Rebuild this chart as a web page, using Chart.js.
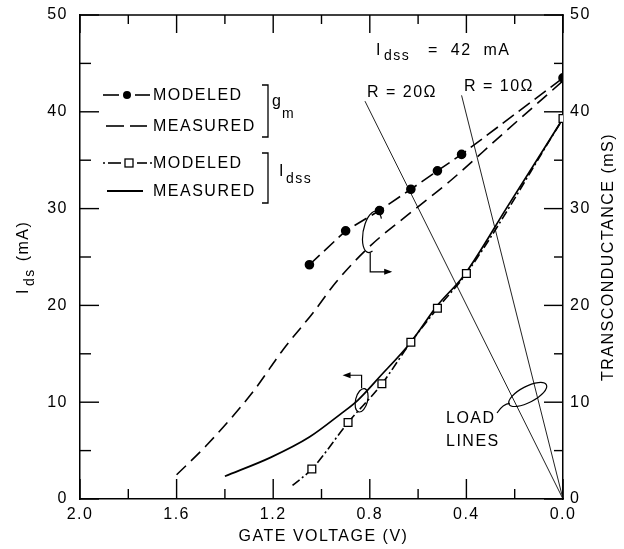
<!DOCTYPE html>
<html>
<head>
<meta charset="utf-8">
<script src="https://cdn.jsdelivr.net/npm/chart.js@4.4.0/dist/chart.umd.min.js"></script>
<style>
  html, body { margin: 0; background: #fff; }
  #wrap { width: 624px; height: 549px; position: relative; }
  #ov { position: absolute; left: 0; top: 0; pointer-events: none; }
</style>
</head>
<body>
<div id="wrap"><canvas id="chart"></canvas><canvas id="ov" width="624" height="549"></canvas></div>
<script>
const FONT = "'Liberation Sans', Arial, Helvetica, sans-serif";

// gate voltage (V) for each curve
const GM_MODELED_V = [1.05, 0.90, 0.76, 0.63, 0.52, 0.42, 0.00];
const GM_MODELED = [24.2, 27.7, 29.8, 32.0, 33.9, 35.6, 43.5]; // mS

const GM_MEASURED_V = [1.60, 1.47, 1.28, 1.16, 1.03, 0.94, 0.80, 0.63, 0.47, 0.25, 0.00];
const GM_MEASURED = [2.5, 5.7, 11.2, 15.4, 19.4, 22.4, 26.1, 29.6, 32.8, 37.7, 43.2]; // mS

const IDS_MODELED_V = [1.12, 1.04, 0.89, 0.75, 0.63, 0.52, 0.40, 0.00];
const IDS_MODELED = [1.4, 3.1, 7.9, 11.9, 16.2, 19.7, 23.3, 39.3]; // mA
const IDS_MODELED_MARK = [false, true, true, true, true, true, true, true];

const IDS_MEASURED_V = [1.40, 1.21, 1.05, 0.92, 0.85, 0.76, 0.63, 0.52, 0.41, 0.23, 0.00];
const IDS_MEASURED = [2.35, 4.3, 6.4, 8.8, 10.2, 12.6, 16.2, 20.0, 23.1, 30.2, 39.3]; // mA

// load lines
const LOAD_R20_V = [0.82, 0.0];
const LOAD_R20_I = [41.1, 0.0];
const LOAD_R10_V = [0.42, 0.0];
const LOAD_R10_I = [41.7, 0.0];

// axes
const X_MIN = 0, X_MAX = 2.0, X_STEP = 0.2;
const Y_MIN = 0, Y_MAX = 50, Y_STEP = 5;

function pts(xs, ys) {
  return xs.map((v, i) => ({ x: v, y: ys[i] }));
}

function txt(ctx, s, x, y, size, align) {
  ctx.font = size + "px " + FONT;
  ctx.textAlign = align || "left";
  ctx.fillText(s, x, y);
  return ctx.measureText(s).width;
}

function seg(ctx, x1, y1, x2, y2) {
  ctx.beginPath();
  ctx.moveTo(x1, y1);
  ctx.lineTo(x2, y2);
  ctx.stroke();
}

function arrowHead(ctx, x, y, dir) {
  // dir: 1 = right, -1 = left
  ctx.beginPath();
  ctx.moveTo(x, y);
  ctx.lineTo(x - dir * 8, y - 3);
  ctx.lineTo(x - dir * 8, y + 3);
  ctx.closePath();
  ctx.fill();
}

// legend, notes and axis titles
const decoPlugin = {
  id: "deco",
  beforeUpdate(chart) { chart.ctx.letterSpacing = "1.5px"; },
  beforeDraw(chart) { chart.ctx.letterSpacing = "1.5px"; },
  afterDraw(chart) {
    const ctx = chart.ctx;
    const ca = chart.chartArea;
    const sx = chart.scales.x, sy = chart.scales.y, sy2 = chart.scales.y2;
    ctx.save();
    ctx.setLineDash([]);
    ctx.strokeStyle = "#000";
    ctx.fillStyle = "#000";

    // legend
    ctx.lineWidth = 1.6;
    ctx.textBaseline = "middle";
    const lx = ca.left;
    // gm modeled
    seg(ctx, lx + 23, 95, lx + 39, 95);
    seg(ctx, lx + 55, 95, lx + 70, 95);
    ctx.beginPath(); ctx.arc(lx + 47, 95, 4, 0, Math.PI * 2); ctx.fill();
    txt(ctx, "MODELED", lx + 73, 96, 16);
    // gm measured
    seg(ctx, lx + 26, 126, lx + 44, 126);
    seg(ctx, lx + 50, 126, lx + 67, 126);
    txt(ctx, "MEASURED", lx + 73, 127, 16);
    // Ids modeled
    seg(ctx, lx + 23, 163, lx + 25, 163);
    seg(ctx, lx + 28, 163, lx + 41, 163);
    seg(ctx, lx + 57, 163, lx + 67, 163);
    seg(ctx, lx + 70, 163, lx + 72, 163);
    ctx.lineWidth = 1.3;
    ctx.strokeRect(lx + 45, 159, 8, 8);
    txt(ctx, "MODELED", lx + 73, 164, 16);
    // Ids measured
    ctx.lineWidth = 1.8;
    seg(ctx, lx + 27, 191, lx + 63, 191);
    txt(ctx, "MEASURED", lx + 73, 192, 16);

    // brackets
    ctx.lineWidth = 1.3;
    ctx.beginPath();
    ctx.moveTo(lx + 182, 85); ctx.lineTo(lx + 188, 85); ctx.lineTo(lx + 188, 137); ctx.lineTo(lx + 182, 137);
    ctx.moveTo(lx + 182, 153); ctx.lineTo(lx + 188, 153); ctx.lineTo(lx + 188, 203); ctx.lineTo(lx + 182, 203);
    ctx.stroke();
    ctx.textBaseline = "alphabetic";
    txt(ctx, "g", lx + 192, 106, 16);
    txt(ctx, "m", lx + 202, 118, 14);
    let w = txt(ctx, "I", lx + 199, 176, 16);
    txt(ctx, "dss", lx + 199 + w + 1, 183, 14);

    // Idss = 42 mA
    w = txt(ctx, "I", 376, 55, 16);
    txt(ctx, "dss", 376 + w + 2, 60, 14);
    txt(ctx, "=  42  mA", 428, 55, 16);

    // load line labels
    txt(ctx, "R = 20\u03A9", 367, 97, 16);
    txt(ctx, "R = 10\u03A9", 464, 91, 16);
    txt(ctx, "LOAD", 446, 423, 16);
    txt(ctx, "LINES", 446, 446, 16);

    ctx.lineWidth = 1.2;
    // ellipse around the load lines
    const lc = { x: sx.getPixelForValue(0.146), y: sy.getPixelForValue(10.8) };
    ctx.beginPath();
    ctx.ellipse(lc.x, lc.y, 21, 8, -0.48, 0, Math.PI * 2);
    ctx.stroke();
    ctx.beginPath();
    ctx.moveTo(497, 413);
    ctx.quadraticCurveTo(503, 404, lc.x - 18, lc.y + 9);
    ctx.stroke();

    // loop on the gm curves, arrow to the right axis
    const gc = { x: sx.getPixelForValue(0.79), y: sy2.getPixelForValue(27.6) };
    ctx.beginPath();
    ctx.ellipse(gc.x, gc.y, 9, 21, 0.2, Math.PI * 0.35, Math.PI * 1.75);
    ctx.stroke();
    ctx.beginPath();
    ctx.moveTo(gc.x - 2, gc.y + 21);
    ctx.lineTo(gc.x - 2, gc.y + 40);
    ctx.lineTo(gc.x + 18, gc.y + 40);
    ctx.stroke();
    arrowHead(ctx, gc.x + 20, gc.y + 40, 1);

    // loop on the Ids curves, arrow to the left axis
    const ic = { x: sx.getPixelForValue(0.834), y: sy.getPixelForValue(10.2) };
    ctx.beginPath();
    ctx.ellipse(ic.x, ic.y, 6, 12, 0.25, 0, Math.PI * 2);
    ctx.stroke();
    ctx.beginPath();
    ctx.moveTo(ic.x, ic.y - 12);
    ctx.lineTo(ic.x, ic.y - 25);
    ctx.lineTo(ic.x - 16, ic.y - 25);
    ctx.stroke();
    arrowHead(ctx, ic.x - 19, ic.y - 25, -1);

    // axis titles
    ctx.textBaseline = "middle";
    txt(ctx, "GATE VOLTAGE (V)", (ca.left + ca.right) / 2 + 2, 537, 16, "center");

    ctx.save();
    ctx.translate(609, 257);
    ctx.rotate(-Math.PI / 2);
    txt(ctx, "TRANSCONDUCTANCE (mS)", 0, 0, 16, "center");
    ctx.restore();

    ctx.save();
    ctx.textBaseline = "alphabetic";
    ctx.translate(28, 294);
    ctx.rotate(-Math.PI / 2);
    w = txt(ctx, "I", 0, 0, 16);
    const w2 = txt(ctx, "ds", w + 2, 6, 14);
    txt(ctx, " (mA)", w + w2 + 3, 0, 16);
    ctx.restore();

    ctx.restore();
  }
};

// top of the box and the inward tick marks, on a canvas laid over the chart
const ticksPlugin = {
  id: "inTicks",
  afterRender(chart) {
    const ov = document.getElementById("ov");
    const octx = ov.getContext("2d");
    const ca = chart.chartArea;
    const sx = chart.scales.x, sy = chart.scales.y, sy2 = chart.scales.y2;
    octx.clearRect(0, 0, ov.width, ov.height);
    octx.fillStyle = "#000";
    octx.fillRect(ca.left - 0.75, ca.top - 0.75, ca.right - ca.left + 1.5, 1.5);
    for (let v = X_MIN; v <= X_MAX + 1e-6; v += X_STEP) {
      const p = sx.getPixelForValue(v);
      const major = Math.round(v * 10) % 4 === 0;
      const lb = major ? 20 : 10, lt = major ? 18 : 9;
      octx.fillRect(p - 0.7, ca.bottom - lb, 1.4, lb);
      octx.fillRect(p - 0.7, ca.top, 1.4, lt);
    }
    for (let v = Y_MIN; v <= Y_MAX; v += Y_STEP) {
      const major = v % 10 === 0;
      const p = sy.getPixelForValue(v);
      const ll = major ? 19 : 11;
      octx.fillRect(ca.left, p - 0.7, ll, 1.4);
      const p2 = sy2.getPixelForValue(v);
      const lr = major ? 19 : 9;
      octx.fillRect(ca.right - lr, p2 - 0.7, lr, 1.4);
    }
  }
};

Chart.defaults.font.family = FONT;
Chart.defaults.font.size = 16;
Chart.defaults.color = "#000";

const myChart = new Chart(document.getElementById("chart"), {
  type: "line",
  data: {
    datasets: [
      {
        label: "gm modeled",
        data: pts(GM_MODELED_V, GM_MODELED),
        yAxisID: "y2",
        borderColor: "#000",
        borderWidth: 1.6,
        borderDash: [14, 6],
        pointRadius: 4,
        pointBackgroundColor: "#000",
        pointBorderColor: "#000",
        tension: 0,
      },
      {
        label: "gm measured",
        data: pts(GM_MEASURED_V, GM_MEASURED),
        yAxisID: "y2",
        borderColor: "#000",
        borderWidth: 1.6,
        borderDash: [13, 7],
        pointRadius: 0,
        cubicInterpolationMode: "monotone",
      },
      {
        label: "Ids modeled",
        data: pts(IDS_MODELED_V, IDS_MODELED),
        yAxisID: "y",
        borderColor: "#000",
        borderWidth: 1.6,
        borderDash: [9, 3, 2, 3],
        pointStyle: "rect",
        pointRadius: IDS_MODELED_MARK.map(m => (m ? 5.5 : 0)),
        pointBackgroundColor: "#fff",
        pointBorderColor: "#000",
        pointBorderWidth: 1.3,
        cubicInterpolationMode: "monotone",
      },
      {
        label: "Ids measured",
        data: pts(IDS_MEASURED_V, IDS_MEASURED),
        yAxisID: "y",
        borderColor: "#000",
        borderWidth: 1.7,
        pointRadius: 0,
        cubicInterpolationMode: "monotone",
      },
      {
        label: "R = 20",
        data: pts(LOAD_R20_V, LOAD_R20_I),
        yAxisID: "y",
        borderColor: "#222",
        borderWidth: 1,
        pointRadius: 0,
      },
      {
        label: "R = 10",
        data: pts(LOAD_R10_V, LOAD_R10_I),
        yAxisID: "y",
        borderColor: "#222",
        borderWidth: 1,
        pointRadius: 0,
      },
    ],
  },
  options: {
    responsive: true,
    maintainAspectRatio: false,
    animation: false,
    layout: { padding: { top: 15, left: 0, right: 0, bottom: 0 } },
    plugins: {
      legend: { display: false },
      tooltip: { enabled: false },
    },
    scales: {
      x: {
        type: "linear",
        reverse: true,
        min: X_MIN,
        max: X_MAX,
        grid: { display: false, drawTicks: false },
        border: { display: true, color: "#000", width: 1.5 },
        ticks: {
          stepSize: X_STEP,
          autoSkip: false,
          maxRotation: 0,
          padding: 6,
          callback: (v) => {
            const k = Math.round(v * 10);
            return k % 4 === 0 ? (k / 10).toFixed(1) : "";
          },
        },
        afterFit: (s) => { s.height = 50; s.paddingLeft = 0; s.paddingRight = 0; },
      },
      y: {
        position: "left",
        min: Y_MIN,
        max: Y_MAX,
        grid: { display: false, drawTicks: false },
        border: { display: true, color: "#000", width: 1.5 },
        ticks: {
          stepSize: Y_STEP,
          padding: 12,
          callback: (v) => (v % 10 === 0 ? v : ""),
        },
        afterFit: (s) => { s.width = 80; s.paddingTop = 0; s.paddingBottom = 0; },
      },
      y2: {
        position: "right",
        min: Y_MIN,
        max: Y_MAX,
        grid: { display: false, drawTicks: false },
        border: { display: true, color: "#000", width: 1.5 },
        ticks: {
          stepSize: Y_STEP,
          padding: 7,
          callback: (v) => (v % 10 === 0 ? v : ""),
        },
        afterFit: (s) => { s.width = 61; s.paddingTop = 0; s.paddingBottom = 0; },
      },
    },
  },
  plugins: [decoPlugin, ticksPlugin],
});
</script>
</body>
</html>
